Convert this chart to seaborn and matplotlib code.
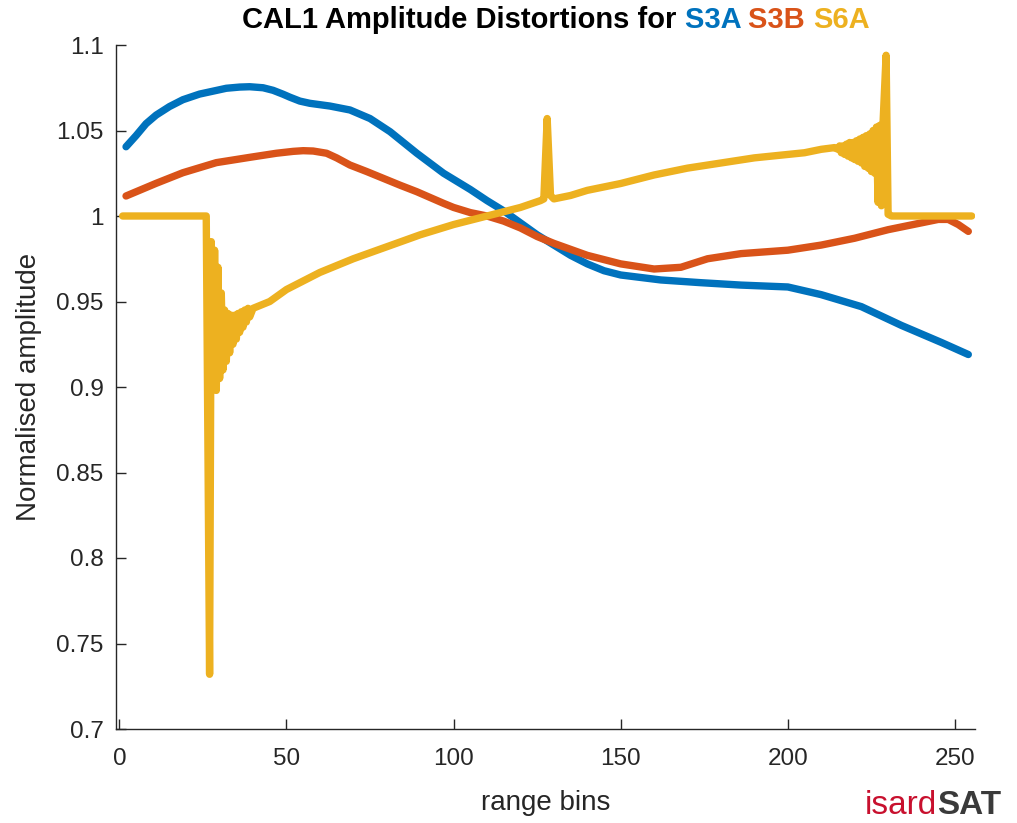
import numpy as np
import pandas as pd
import matplotlib
matplotlib.use("Agg")
import matplotlib.pyplot as plt
import seaborn as sns

# values (range bin -> normalised amplitude)
s3a_bins = [2, 5, 8, 11, 15, 19, 24, 28, 32, 36, 39, 43, 46, 49, 51, 54, 57,
            63, 69, 75, 81, 89, 97, 105, 110, 115, 120, 125, 130, 135, 140,
            145, 150, 162, 174, 186, 200, 210, 222, 234, 246, 254]
s3a_vals = [1.0405, 1.047, 1.054, 1.059, 1.064, 1.068, 1.0713, 1.073, 1.0747,
            1.0754, 1.0756, 1.075, 1.0735, 1.0712, 1.0695, 1.0672, 1.0659,
            1.0643, 1.062, 1.057, 1.0493, 1.0367, 1.025, 1.0155, 1.009, 1.003,
            0.996, 0.989, 0.983, 0.977, 0.972, 0.968, 0.9655, 0.9626, 0.961,
            0.9596, 0.9585, 0.954, 0.947, 0.936, 0.926, 0.919]

s3b_bins = [2, 11, 19, 29, 39, 47, 52, 55, 58, 62, 65, 69, 74, 79, 84, 89,
            97, 100, 105, 110, 115, 120, 125, 130, 140, 150, 160, 168, 176,
            186, 200, 210, 220, 230, 240, 245, 248, 251, 254]
s3b_vals = [1.0117, 1.0191, 1.0253, 1.0312, 1.0343, 1.0367, 1.0378, 1.0382,
            1.038, 1.0367, 1.034, 1.0298, 1.026, 1.022, 1.018, 1.0142, 1.0074,
            1.005, 1.002, 1.000, 0.997, 0.993, 0.988, 0.984, 0.977, 0.972,
            0.969, 0.970, 0.975, 0.978, 0.980, 0.983, 0.987, 0.992, 0.996,
            0.998, 0.998, 0.995, 0.991]

s6a_bins = [1, 26, 27, 27.5, 28, 28.5, 29, 29.5, 30, 30.5, 31, 31.5, 32, 32.5,
            33, 33.5, 34, 34.5, 35, 35.5, 36, 36.5, 37, 37.5, 38, 38.5, 39, 40,
            45, 50, 60, 70, 80, 90, 100, 110, 120, 126, 127, 128, 129, 130, 135,
            140, 150, 160, 170, 180, 190, 200, 205, 210, 214,
            215, 215.5, 216, 216.5, 217, 217.5, 218, 218.5, 219, 219.5,
            220, 220.5, 221, 221.5, 222, 222.5, 223, 223.5, 224, 224.5,
            225, 225.5, 226, 226.5, 227, 227.5, 228, 228.5, 229.4, 230, 231, 255]
s6a_vals = [1.0, 1.0, 0.732, 0.985, 0.900, 0.980, 0.898, 0.970, 0.905, 0.955,
            0.910, 0.945, 0.915, 0.943, 0.920, 0.942, 0.925, 0.942, 0.928,
            0.943, 0.932, 0.944, 0.935, 0.945, 0.938, 0.946, 0.941, 0.946,
            0.950, 0.957, 0.967, 0.975, 0.982, 0.989, 0.995, 1.000, 1.005,
            1.009, 1.010, 1.057, 1.012, 1.010, 1.012,
            1.015, 1.019, 1.024, 1.028, 1.031, 1.034, 1.036, 1.037, 1.039, 1.040,
            1.039, 1.041, 1.037, 1.041, 1.036, 1.042, 1.035, 1.043, 1.034, 1.043,
            1.033, 1.044, 1.032, 1.045, 1.031, 1.046, 1.029, 1.047, 1.028, 1.048,
            1.026, 1.050, 1.025, 1.052, 1.008, 1.053, 1.006, 1.055, 1.094,
            1.001, 1.0, 1.0]

series = ["S3A", "S3B", "S6A"]
colours = ["#0072BD", "#D95319", "#EDB120"]

xticks = [0, 50, 100, 150, 200, 250]
yticks = [0.7, 0.75, 0.8, 0.85, 0.9, 0.95, 1.0, 1.05, 1.1]

sns.set_style("ticks")
plt.rcParams['font.family'] = ['Liberation Sans', 'DejaVu Sans']

fig = plt.figure(figsize=(10.17, 8.23), dpi=100)
ax = fig.add_axes([116/1017, 94/823, (975-116)/1017, (729-45)/823])

data = pd.concat([
    pd.DataFrame({"bin": s3a_bins, "amp": s3a_vals, "sat": "S3A"}),
    pd.DataFrame({"bin": s3b_bins, "amp": s3b_vals, "sat": "S3B"}),
    pd.DataFrame({"bin": s6a_bins, "amp": s6a_vals, "sat": "S6A"}),
])
sns.lineplot(data=data, x="bin", y="amp", hue="sat", palette=colours,
             estimator=None, sort=False, linewidth=5.3, legend=False, ax=ax)
for l in ax.lines:
    l.set_solid_joinstyle("round")
    l.set_solid_capstyle("round")

ax.set_xlim(-1, 256)
ax.set_ylim(0.7, 1.1)
ax.set_xticks(xticks)
ax.set_yticks(yticks)
ax.set_yticklabels(["%g" % v for v in yticks])
ax.tick_params(direction="in", length=7, width=1, labelsize=17.5,
               colors="#262626")
ax.tick_params(axis="x", pad=14)
ax.tick_params(axis="y", pad=9)
ax.set_xlabel("range bins", fontsize=20, color="#262626", labelpad=14)
ax.set_ylabel("Normalised amplitude", fontsize=20, color="#262626", labelpad=10)
for s in ["left", "bottom"]:
    ax.spines[s].set_color("#262626")
    ax.spines[s].set_linewidth(1)
sns.despine(ax=ax)

# title with coloured satellite names
pieces = [("CAL1 Amplitude Distortions for ", "black")] + \
         [(n + " ", c) for n, c in zip(series[:-1], colours[:-1])] + \
         [(series[-1], colours[-1])]
fig.canvas.draw()
r = fig.canvas.get_renderer()
texts = []
for s, c in pieces:
    t = fig.text(0, 1 - 28/823, s, color=c, fontsize=21, fontweight="bold",
                 va="baseline", ha="left")
    texts.append(t)
widths = [t.get_window_extent(r).width for t in texts]
x = (556 - sum(widths) / 2)
for t, w in zip(texts, widths):
    t.set_x(x / 1017)
    x += w

# logo
lt1 = fig.text(865/1017, 1 - 814/823, "isard", color="#C8102E", fontsize=24,
               va="baseline", ha="left")
w1 = lt1.get_window_extent(r).width
fig.text((865 + w1)/1017, 1 - 814/823, "SAT", color="#3a3a3a", fontsize=24,
         fontweight="bold", va="baseline", ha="left")

fig.savefig("out.png", dpi=100)
